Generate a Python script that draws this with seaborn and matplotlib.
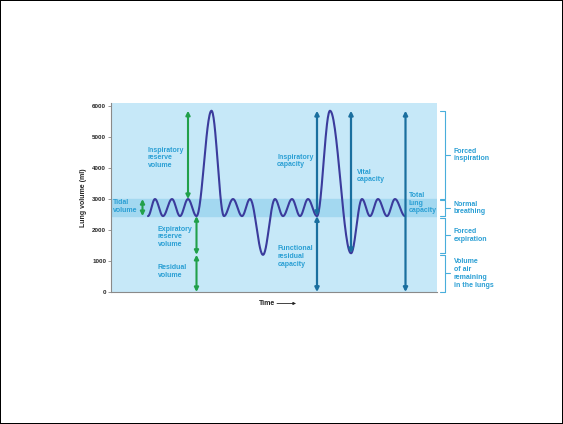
import numpy as np
import pandas as pd
import seaborn as sns
import matplotlib.pyplot as plt

# ---- data ----
# extrema of the spirometer trace: time (arbitrary units) and lung volume (ml)
trace_t = [37, 44, 52, 61, 69, 77, 85.5, 100.5, 113, 122, 131, 139, 152, 164, 172, 181,
           189, 197, 206, 219, 240, 251, 259, 267, 276, 284, 294]
trace_v = [2450, 3000, 2450, 3000, 2450, 3000, 2450, 5850, 2450, 3000, 2450, 3000, 1200,
           3000, 2450, 3000, 2450, 3000, 2450, 5850, 1250, 3000, 2450, 3000, 2450, 3000, 2450]

y_ticks = [0, 1000, 2000, 3000, 4000, 5000, 6000]

# green volume arrows: (time, low ml, high ml)
vol_arrow_t = [31.5, 77, 85.5, 85.5]
vol_arrow_lo = [2450, 3000, 1200, 0]
vol_arrow_hi = [3000, 5850, 2450, 1200]

# capacity arrows
cap_arrow_t = [206, 206, 240, 294.5]
cap_arrow_lo = [2450, 0, 1250, 0]
cap_arrow_hi = [5850, 2450, 5850, 5850]

# labels: text, time, ml
label_txt = ["Tidal\nvolume", "Inspiratory\nreserve\nvolume", "Expiratory\nreserve\nvolume",
             "Residual\nvolume", "Inspiratory\ncapacity", "Functional\nresidual\ncapacity",
             "Vital\ncapacity", "Total\nlung\ncapacity"]
label_t = [1.5, 37, 47, 47, 166, 167, 245.5, 297.5]
label_v = [2750, 4330, 1780, 650, 4230, 1150, 3740, 2870]

# right-hand brackets: low ml, high ml, text
br_lo = [3000, 2450, 1250, 0]
br_hi = [5850, 2980, 2400, 1200]
br_txt = ["Forced\ninspiration", "Normal\nbreathing", "Forced\nexpiration",
          "Volume\nof air\nremaining\nin the lungs"]

# ---- build smooth trace from extrema (half-cosine between successive extrema) ----
ts, vs = [], []
for i in range(len(trace_t) - 1):
    s = np.linspace(0, 1, 30, endpoint=False)
    w = (1 - np.cos(np.pi * s)) / 2
    ts.extend(trace_t[i] + (trace_t[i + 1] - trace_t[i]) * s)
    vs.extend(trace_v[i] + (trace_v[i + 1] - trace_v[i]) * w)
ts.append(trace_t[-1]); vs.append(trace_v[-1])
df = pd.DataFrame({"t": ts, "v": vs})

sns.set_theme(style="white")
plt.rcParams['font.family'] = ['Liberation Sans', 'DejaVu Sans']

BG = "#c6e8f8"
BAND = "#a3d8f0"
TXT = "#2a9fd4"
GREEN = "#21a04a"
DARK = "#1a6f9f"
LINE = "#3b3b9c"
BR = "#49aedb"

fig = plt.figure(figsize=(5.63, 4.24), dpi=100, facecolor="white",
                 edgecolor="black", linewidth=1.2)
ax = fig.add_axes([111 / 563, 1 - 292 / 424, 326 / 563, 189 / 424])
ax.set_facecolor(BG)
ax.set_xlim(0, 326)
ax.set_ylim(0, 6100)

ax.axhspan(2450, 3000, color=BAND, zorder=0)

sns.lineplot(data=df, x="t", y="v", sort=False, color=LINE, lw=1.5, ax=ax, zorder=3)

def arrow(x, lo, hi, color, lw):
    ax.annotate("", xy=(x, hi), xytext=(x, lo),
                arrowprops=dict(arrowstyle="<|-|>", color=color, lw=lw,
                                mutation_scale=6, shrinkA=0, shrinkB=0),
                zorder=4, annotation_clip=False)

for x, lo, hi in zip(vol_arrow_t, vol_arrow_lo, vol_arrow_hi):
    arrow(x, lo, hi, GREEN, 1.5)
for x, lo, hi in zip(cap_arrow_t, cap_arrow_lo, cap_arrow_hi):
    arrow(x, lo, hi, DARK, 1.6)

for s, x, y in zip(label_txt, label_t, label_v):
    ax.text(x, y, s, color=TXT, fontsize=5, fontweight="bold", ha="left", va="center",
            linespacing=1.15, zorder=5)

# brackets
bx, bl, bm = 334, 329, 339
for lo, hi, s in zip(br_lo, br_hi, br_txt):
    ax.plot([bl, bx, bx, bl], [hi, hi, lo, lo], color=BR, lw=0.8, clip_on=False)
    mid = (lo + hi) / 2
    ax.plot([bx, bm], [mid, mid], color=BR, lw=0.8, clip_on=False)
    ax.text(343, mid, s, color=TXT, fontsize=5, fontweight="bold", ha="left",
            va="center", linespacing=1.15, clip_on=False)

# time label
ax.text(164, -370, "Time", fontsize=5, fontweight="bold", ha="right", va="center",
        color="#222222")
ax.annotate("", xy=(185, -370), xytext=(166, -370),
            arrowprops=dict(arrowstyle="-|>", color="#222222", lw=0.6, mutation_scale=4,
                            shrinkA=0, shrinkB=0),
            annotation_clip=False)

ax.set_xticks([])
ax.set_yticks(y_ticks)
ax.set_yticklabels([str(v) for v in y_ticks], fontsize=4.5, fontweight="bold")
ax.tick_params(axis="y", left=True, length=2, width=0.6, color="#888888", pad=1.5)
ax.set_xlabel("")
ax.set_ylabel("Lung volume (ml)", fontsize=5, fontweight="bold", labelpad=4)
for sp in ["top", "right"]:
    ax.spines[sp].set_visible(False)
for sp in ["left", "bottom"]:
    ax.spines[sp].set_color("#8a8a8a")
    ax.spines[sp].set_linewidth(0.8)

fig.savefig("out.png", dpi=100, facecolor="white", edgecolor=fig.get_edgecolor())
